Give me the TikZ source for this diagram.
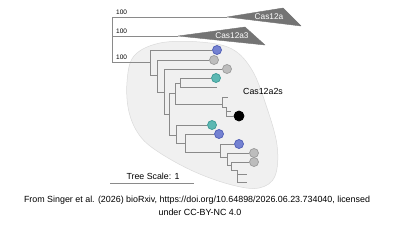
\documentclass[tikz,border=0pt]{standalone}
\usepackage{fontspec}
\setmainfont{Liberation Sans}
\definecolor{branchgrey}{HTML}{8A8A8A}
\definecolor{blobfill}{HTML}{F0F0F0}
\definecolor{blobedge}{HTML}{DADADA}
\definecolor{trifill}{HTML}{747474}
\definecolor{dotblue}{HTML}{7482D2}
\definecolor{dotblueedge}{HTML}{4E5DB5}
\definecolor{dotteal}{HTML}{5CB8B3}
\definecolor{dottealedge}{HTML}{3C9A95}
\definecolor{dotgrey}{HTML}{BDBDBD}
\definecolor{dotgreyedge}{HTML}{9A9A9A}
\begin{document}
\begin{tikzpicture}[x=1pt,y=-1pt,
  br/.style={draw=branchgrey, line width=0.7pt},
  tipdot/.style={circle, inner sep=0pt, minimum size=9pt, line width=0.7pt},
  bluedot/.style={tipdot, fill=dotblue, draw=dotblueedge},
  tealdot/.style={tipdot, fill=dotteal, draw=dottealedge},
  greydot/.style={tipdot, fill=dotgrey, draw=dotgreyedge},
  blackdot/.style={tipdot, fill=black, draw=black, minimum size=10pt},
  boot/.style={font=\fontsize{6.5}{7}\selectfont, anchor=west, inner sep=0pt},
  clade/.style={fill=trifill, draw=trifill, line width=0.4pt, line join=round},
  cladelabel/.style={font=\fontsize{8.3}{9}\selectfont, text=white, inner sep=0pt},
  lbl/.style={font=\fontsize{8.8}{10}\selectfont, inner sep=0pt},
  caption/.style={font=\fontsize{8.9}{10}\selectfont, inner sep=0pt}
]
\useasboundingbox (0,0) rectangle (401,225);

% shaded clade region
\draw[fill=blobfill, draw=blobedge, line width=0.5pt]
  plot[smooth cycle, tension=0.6] coordinates {
  (127,82) (134,56) (160,43) (200,42) (232,49) (252,70) (266,105)
  (277,145) (275,176) (259,188) (232,185) (195,172) (160,153) (140,136) (129,112)};

% collapsed clades
\coordinate (ta) at (227,17);
\coordinate (tb) at (178,36);
\fill[clade] (ta) -- (283,8) -- (301,26) -- cycle;
\fill[clade] (tb) -- (245,27) -- (265,45) -- cycle;
\node[cladelabel] (la) at (269,17) {Cas12a};
\node[cladelabel] (lb) at (232,36) {Cas12a3};

% internal nodes
\coordinate (r) at (112,36);
\coordinate (n1) at (150,62);
\coordinate (n2) at (157,75);
\coordinate (n3) at (164,92);
\coordinate (n4) at (169,114);
\coordinate (n5) at (175,93);
\coordinate (n6) at (180,83);
\coordinate (n7) at (222,104);
\coordinate (n8) at (226,107);
\coordinate (n9) at (176,135);
\coordinate (n10) at (185,143);
\coordinate (n11) at (220,152);
\coordinate (n12) at (227,157);
\coordinate (n13) at (231,165);
\coordinate (n14) at (237,170);

% leaves without dots
\coordinate (e1) at (217,87);
\coordinate (e2) at (228,97);
\coordinate (e3) at (231,111);
\coordinate (e4) at (247,174);
\coordinate (e5) at (247,182);

% leaves with dots
\node[bluedot] (d1) at (217,50) {};
\node[greydot] (d2) at (214,60) {};
\node[greydot] (d3) at (227,69) {};
\node[tealdot] (d4) at (216,78) {};
\node[blackdot] (d5) at (239,116) {};
\node[tealdot] (d6) at (212,125) {};
\node[bluedot] (d7) at (219,134) {};
\node[bluedot] (d8) at (239,144) {};
\node[greydot] (d9) at (254,153) {};
\node[greydot] (d10) at (254,162) {};

% branches
\draw[br] (r) |- (ta);
\draw[br] (r) |- (tb);
\draw[br] (r) |- (n1);
\draw[br] (n1) |- (d1.west);
\draw[br] (n1) |- (n2);
\draw[br] (n2) |- (d2.west);
\draw[br] (n2) |- (n3);
\draw[br] (n3) |- (d3.west);
\draw[br] (n3) |- (n4);
\draw[br] (n4) |- (n5);
\draw[br] (n4) |- (n9);
\draw[br] (n5) |- (n6);
\draw[br] (n5) |- (n7);
\draw[br] (n6) |- (d4.west);
\draw[br] (n6) |- (e1);
\draw[br] (n7) |- (e2);
\draw[br] (n7) |- (n8);
\draw[br] (n8) |- (e3);
\draw[br] (n8) |- (d5.west);
\draw[br] (n9) |- (d6.west);
\draw[br] (n9) |- (n10);
\draw[br] (n10) |- (d7.west);
\draw[br] (n10) |- (n11);
\draw[br] (n11) |- (d8.west);
\draw[br] (n11) |- (n12);
\draw[br] (n12) |- (d9.west);
\draw[br] (n12) |- (n13);
\draw[br] (n13) |- (d10.west);
\draw[br] (n13) |- (n14);
\draw[br] (n14) |- (e4);
\draw[br] (n14) |- (e5);

% bootstrap values
\node[boot] (b1) at (116,12) {100};
\node[boot] (b2) at (116,31) {100};
\node[boot] (b3) at (116,57) {100};

% clade label
\node[lbl] (c2s) at (263,91) {Cas12a2s};

% scale bar
\coordinate (s1) at (110,183);
\coordinate (s2) at (194,183);
\draw[br] (s1) -- (s2);
\node[lbl] (ts) at (153,176) {Tree Scale: 1};

% caption
\node[caption] (cap1) at (197,200) {From Singer et al. (2026) bioRxiv, https://doi.org/10.64898/2026.06.23.734040, licensed};
\node[caption] (cap2) at (200,212) {under CC-BY-NC 4.0};
\end{tikzpicture}
\end{document}
